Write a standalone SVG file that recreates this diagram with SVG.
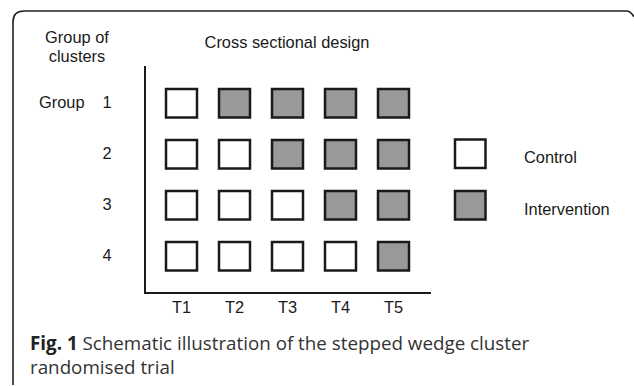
<svg xmlns="http://www.w3.org/2000/svg" width="634" height="386" viewBox="0 0 634 386">
<style>
.lbl{font-family:"Liberation Sans",Arial,sans-serif;font-size:16.4px;fill:#1a1a1a}
.cap{font-family:"Open Sans","Noto Sans",sans-serif;font-size:18.8px;fill:#333}
.c{fill:#fff;stroke:#1a1a1a;stroke-width:2.5}
.i{fill:#999;stroke:#1a1a1a;stroke-width:2.5}
.ax{stroke:#1a1a1a;stroke-width:2;fill:none}
</style>
<rect width="634" height="386" fill="#fff"/>
<path d="M13,385 L13,22 Q13,11 24,11 L626,11 Q631,11 634,17" fill="none" stroke="#222" stroke-width="1.6"/>
<g id="headers">
<text class="lbl" x="77" y="42.5" text-anchor="middle">Group of</text>
<text class="lbl" x="77" y="62" text-anchor="middle">clusters</text>
<text class="lbl" x="287" y="48" text-anchor="middle">Cross sectional design</text>
</g>
<g id="rowlabels">
<text class="lbl" x="39" y="108">Group</text>
<text class="lbl" x="107" y="108" text-anchor="middle">1</text>
<text class="lbl" x="107" y="159" text-anchor="middle">2</text>
<text class="lbl" x="107" y="210" text-anchor="middle">3</text>
<text class="lbl" x="107" y="261" text-anchor="middle">4</text>
</g>
<g id="connectors">
<path class="ax" d="M145,66 L145,293 L431,293"/>
</g>
<g id="collabels">
<text class="lbl" x="181.5" y="313" text-anchor="middle">T1</text>
<text class="lbl" x="234.5" y="313" text-anchor="middle">T2</text>
<text class="lbl" x="287.5" y="313" text-anchor="middle">T3</text>
<text class="lbl" x="340.5" y="313" text-anchor="middle">T4</text>
<text class="lbl" x="393.5" y="313" text-anchor="middle">T5</text>
</g>
<g id="group1">
<rect class="c" x="166" y="89" width="31" height="28.5"/>
<rect class="i" x="219" y="89" width="31" height="28.5"/>
<rect class="i" x="272" y="89" width="31" height="28.5"/>
<rect class="i" x="325" y="89" width="31" height="28.5"/>
<rect class="i" x="378" y="89" width="31" height="28.5"/>
</g>
<g id="group2">
<rect class="c" x="166" y="140" width="31" height="28.5"/>
<rect class="c" x="219" y="140" width="31" height="28.5"/>
<rect class="i" x="272" y="140" width="31" height="28.5"/>
<rect class="i" x="325" y="140" width="31" height="28.5"/>
<rect class="i" x="378" y="140" width="31" height="28.5"/>
</g>
<g id="group3">
<rect class="c" x="166" y="191" width="31" height="28.5"/>
<rect class="c" x="219" y="191" width="31" height="28.5"/>
<rect class="c" x="272" y="191" width="31" height="28.5"/>
<rect class="i" x="325" y="191" width="31" height="28.5"/>
<rect class="i" x="378" y="191" width="31" height="28.5"/>
</g>
<g id="group4">
<rect class="c" x="166" y="242" width="31" height="28.5"/>
<rect class="c" x="219" y="242" width="31" height="28.5"/>
<rect class="c" x="272" y="242" width="31" height="28.5"/>
<rect class="c" x="325" y="242" width="31" height="28.5"/>
<rect class="i" x="378" y="242" width="31" height="28.5"/>
</g>
<g id="legend-control">
<rect class="c" x="455" y="139.5" width="30.5" height="28.5"/>
<text class="lbl" x="524" y="163">Control</text>
</g>
<g id="legend-intervention">
<rect class="i" x="455" y="191" width="30.5" height="28.5"/>
<text class="lbl" x="524" y="215">Intervention</text>
</g>
<g id="caption">
<text class="cap" x="30" y="350"><tspan font-weight="bold" fill="#222">Fig. 1</tspan> Schematic illustration of the stepped wedge cluster</text>
<text class="cap" x="30" y="374">randomised trial</text>
</g>
</svg>
